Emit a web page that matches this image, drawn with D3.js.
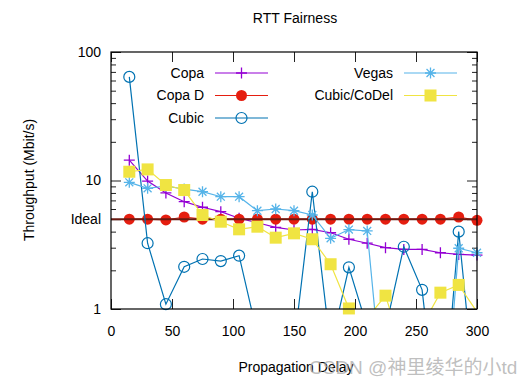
<!DOCTYPE html>
<html>
<head>
<meta charset="utf-8">
<script src="https://cdn.jsdelivr.net/npm/d3@7"></script>
<style>
  body { margin: 0; background: #fff; }
  text { font-family: "Liberation Sans", Arial, sans-serif; }
</style>
</head>
<body>
<svg id="chart" width="529" height="385"></svg>
<script>
"use strict";

// propagation delay (ms) of each run
var delays = [15, 30, 45, 60, 75, 90, 105, 120, 135, 150, 165, 180, 195, 210, 225, 240, 255, 270, 285, 300];

// throughput (Mbit/s), values below 1 fall off the bottom of the plot
var copa      = [14.4, 9.9, 8.0, 6.84, 6.19, 5.72, 5.08, 4.69, 4.32, 4.12, 4.17, 3.92, 3.49, 3.25, 3.0, 2.91, 2.91, 2.74, 2.66, 2.63];
var copaD     = [5.0, 5.0, 4.93, 5.2, 5.0, 5.0, 5.0, 5.0, 5.0, 5.0, 5.0, 5.0, 5.0, 5.0, 5.0, 5.0, 5.0, 5.0, 5.2, 4.9];
var cubic     = [64, 3.25, 1.09, 2.13, 2.45, 2.36, 2.6, 0.63, 0.5, 0.52, 8.18, 0.5, 2.11, 0.72, 0.7, 3.05, 1.41, 0.08, 4.0, 0.15];
var vegas     = [9.68, 8.69, 9.06, 8.58, 8.18, 7.48, 7.48, 5.82, 6.0, 5.82, 5.39, 3.55, 4.15, 4.05, 0.13, 0.2, 0.2, 0.05, 2.97, 2.74];
var cubicCodel = [11.7, 12.2, 9.22, 8.43, 5.39, 4.78, 4.17, 4.37, 3.59, 3.88, 3.49, 2.23, 1.01, 0.85, 1.27, 0.45, 0.74, 1.34, 1.54, 0.95];

var idealValue = 5;
var xTicks = [0, 50, 100, 150, 200, 250, 300];
var yMajorTicks = [1, 10, 100];

var series = [
  { name: "Copa",        values: copa,       color: "#9400d3", marker: "plus" },
  { name: "Copa D",      values: copaD,      color: "#e51e10", marker: "dot" },
  { name: "Cubic",       values: cubic,      color: "#0072b2", marker: "circle" },
  { name: "Vegas",       values: vegas,      color: "#56b4e9", marker: "star" },
  { name: "Cubic/CoDel", values: cubicCodel, color: "#f0e442", marker: "square" }
];

var svg = d3.select("#chart");
var plotLeft = 111, plotRight = 477, plotTop = 52, plotBottom = 309;

var x = d3.scaleLinear().domain([0, 300]).range([plotLeft, plotRight]);
var y = d3.scaleLog().domain([1, 100]).range([plotBottom, plotTop]);

svg.append("defs").append("clipPath").attr("id", "plotClip")
  .append("rect")
  .attr("x", plotLeft).attr("y", plotTop)
  .attr("width", plotRight - plotLeft).attr("height", plotBottom - plotTop);

/**
 * Draw one gnuplot-like point symbol.
 */
function marker(g, type, color, cx, cy) {
  var r = 5.5;
  if (type == "dot") {
    g.append("circle").attr("cx", cx).attr("cy", cy).attr("r", r).attr("fill", color);
  } else if (type == "circle") {
    g.append("circle").attr("cx", cx).attr("cy", cy).attr("r", r)
      .attr("fill", "none").attr("stroke", color).attr("stroke-width", 1.2);
  } else if (type == "square") {
    g.append("rect").attr("x", cx - 6).attr("y", cy - 6).attr("width", 12).attr("height", 12)
      .attr("fill", color);
  } else {
    var p = "M" + (cx - r) + "," + cy + "H" + (cx + r) + "M" + cx + "," + (cy - r) + "V" + (cy + r);
    if (type == "star") {
      var d = r * 0.72;
      p += "M" + (cx - d) + "," + (cy - d) + "L" + (cx + d) + "," + (cy + d) +
           "M" + (cx - d) + "," + (cy + d) + "L" + (cx + d) + "," + (cy - d);
    }
    g.append("path").attr("d", p).attr("stroke", color).attr("stroke-width", 1.3).attr("fill", "none");
  }
}

// axes (ticks inward, mirrored on all four sides)
function styleAxis(g) {
  g.select(".domain").remove();
  g.selectAll("line").attr("stroke", "#222");
  g.selectAll("text").attr("font-size", 14).attr("fill", "#000")
    .attr("font-family", "\"Liberation Sans\", Arial, sans-serif");
}

var yMinor = y.ticks().filter(function(d) { return yMajorTicks.indexOf(d) < 0 && d != idealValue; });

svg.append("g").attr("transform", "translate(0," + plotBottom + ")")
  .call(d3.axisBottom(x).tickValues(xTicks).tickSize(-10).tickSizeOuter(0).tickPadding(17))
  .call(styleAxis);
svg.append("g").attr("transform", "translate(0," + plotTop + ")")
  .call(d3.axisTop(x).tickValues(xTicks).tickSize(-10).tickSizeOuter(0).tickFormat(""))
  .call(styleAxis);

svg.append("g").attr("transform", "translate(" + plotLeft + ",0)")
  .call(d3.axisLeft(y).tickValues(yMajorTicks.concat([idealValue])).tickSize(-10).tickSizeOuter(0).tickPadding(10)
    .tickFormat(function(d) { return d == idealValue ? "Ideal" : d; }))
  .call(styleAxis);
svg.append("g").attr("transform", "translate(" + plotLeft + ",0)")
  .call(d3.axisLeft(y).tickValues(yMinor).tickSize(-5).tickSizeOuter(0).tickFormat(""))
  .call(styleAxis);
svg.append("g").attr("transform", "translate(" + plotRight + ",0)")
  .call(d3.axisRight(y).tickValues(yMajorTicks.concat([idealValue])).tickSize(-10).tickSizeOuter(0).tickFormat(""))
  .call(styleAxis);
svg.append("g").attr("transform", "translate(" + plotRight + ",0)")
  .call(d3.axisRight(y).tickValues(yMinor).tickSize(-5).tickSizeOuter(0).tickFormat(""))
  .call(styleAxis);

// series
var line = d3.line()
  .x(function(d) { return x(d.x); })
  .y(function(d) { return y(Math.max(d.v, 0.001)); });

series.forEach(function(s) {
  var pts = delays.map(function(d, j) { return { x: d, v: s.values[j] }; });
  var g = svg.append("g");
  g.append("path").datum(pts)
    .attr("clip-path", "url(#plotClip)")
    .attr("d", line)
    .attr("fill", "none")
    .attr("stroke", s.color)
    .attr("stroke-width", 1.2);
  pts.filter(function(p) { return p.v >= 1 && p.v <= 100; }).forEach(function(p) {
    marker(g, s.marker, s.color, x(p.x), y(p.v));
  });

  // the ideal share is drawn right after Copa D
  if (s.name == "Copa D") {
    svg.append("line")
      .attr("x1", x(0)).attr("x2", x(300))
      .attr("y1", y(idealValue)).attr("y2", y(idealValue))
      .attr("stroke", "#6a1a10").attr("stroke-width", 2);
  }
});

// frame
svg.append("rect")
  .attr("x", plotLeft).attr("y", plotTop)
  .attr("width", plotRight - plotLeft).attr("height", plotBottom - plotTop)
  .attr("fill", "none").attr("stroke", "#000").attr("stroke-width", 1.2);

// legend: three rows in the first column, then the second column
series.forEach(function(s, i) {
  var col = i < 3 ? 0 : 1;
  var row = i % 3;
  var ly = 73 + row * 22.5;
  var textRight = col == 0 ? 204 : 393;
  var lx = col == 0 ? 215 : 404;
  var g = svg.append("g");
  g.append("text").attr("x", textRight).attr("y", ly).attr("dy", "0.35em")
    .attr("text-anchor", "end").attr("font-size", 14).text(s.name);
  g.append("line").attr("x1", lx).attr("x2", lx + 53).attr("y1", ly).attr("y2", ly)
    .attr("stroke", s.color).attr("stroke-width", 1.2);
  marker(g, s.marker, s.color, lx + 26.5, ly);
});

// titles
svg.append("text").attr("x", 295).attr("y", 23).attr("text-anchor", "middle")
  .attr("font-size", 14).text("RTT Fairness");
svg.append("text").attr("x", 296).attr("y", 372).attr("text-anchor", "middle")
  .attr("font-size", 14).text("Propagation Delay");
svg.append("text").attr("transform", "translate(34,180) rotate(-90)")
  .attr("text-anchor", "middle").attr("font-size", 14).text("Throughput (Mbit/s)");

// watermark
svg.append("text").attr("x", 309).attr("y", 374)
  .attr("font-size", 19).attr("fill", "#aaa").attr("fill-opacity", 0.75)
  .style("font-family", "\"Liberation Sans\", \"Noto Sans CJK SC\", sans-serif")
  .text("CSDN @神里绫华的小td");
</script>
</body>
</html>
